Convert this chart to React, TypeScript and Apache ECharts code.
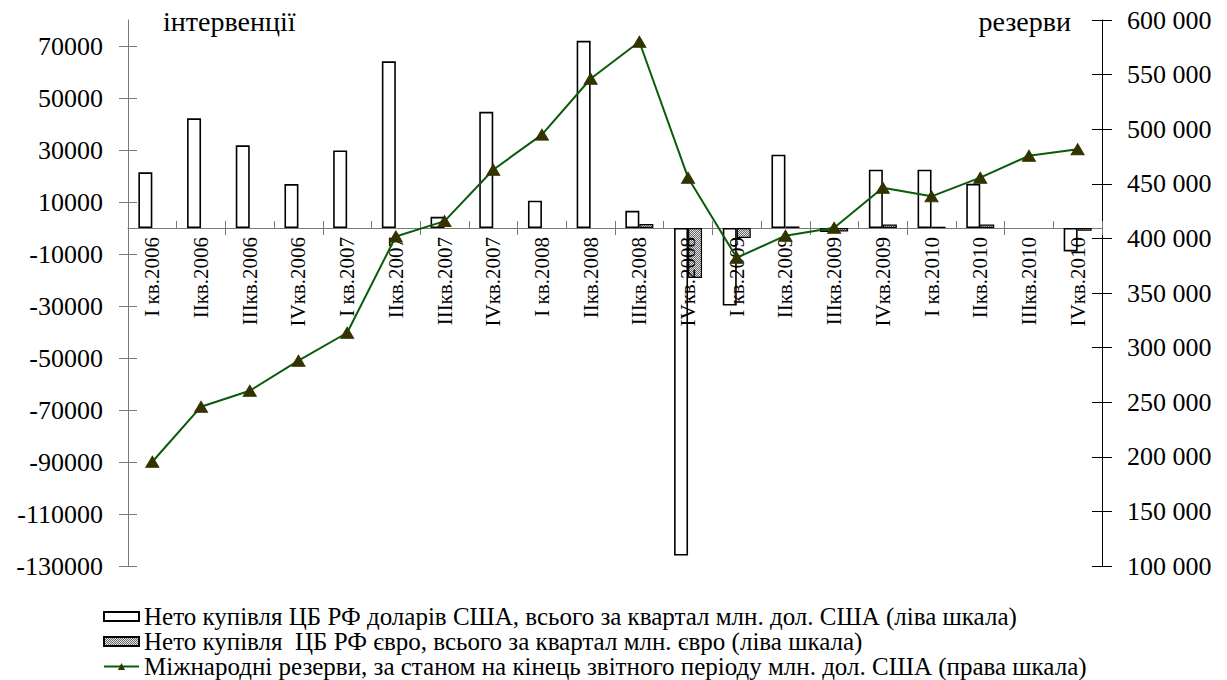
import React, { useEffect, useRef } from "react";
import * as echarts from "echarts";

// Quarters shown on the category axis
const quarters = [
  "I кв.2006", "IIкв.2006", "IIIкв.2006", "IVкв.2006",
  "I кв.2007", "IIкв.2007", "IIIкв.2007", "IVкв.2007",
  "I кв.2008", "IIкв.2008", "IIIкв.2008", "IVкв.2008",
  "I кв.2009", "IIкв.2009", "IIIкв.2009", "IVкв.2009",
  "I кв.2010", "IIкв.2010", "IIIкв.2010", "IVкв.2010",
];

// Net purchases of US dollars by the Bank of Russia, mln USD (left scale)
const usdPurchases = [
  21400, 42200, 31800, 16900,
  29800, 64100, 4300, 44700,
  10500, 72000, 6600, -126000,
  -29800, 28200, -1500, 22400,
  22400, 17000, null, -9000,
];

// Net purchases of euro, mln EUR (left scale)
const eurPurchases = [
  null, null, null, null,
  null, null, null, null,
  null, null, 1500, -19200,
  -3800, 600, -1300, 1300,
  500, 1300, null, -1100,
];

// International reserves at period end, mln USD (right scale)
const reserves = [
  195500, 245900, 260500, 288000,
  313600, 401800, 415800, 462900,
  495000, 546200, 580100, 455600,
  382300, 402500, 409800, 446400,
  438500, 455600, 475700, 481700,
];

// Tick labels of the left scale
const leftTicks = [
  -130000, -110000, -90000, -70000, -50000, -30000, -10000,
  10000, 30000, 50000, 70000,
];

const seriesNames = [
  "Нето купівля ЦБ РФ доларів США, всього за квартал млн. дол. США (ліва шкала)",
  "Нето купівля  ЦБ РФ євро, всього за квартал млн. євро (ліва шкала)",
  "Міжнародні резерви, за станом на кінець звітного періоду млн. дол. США (права шкала)",
];

const FONT = "Liberation Serif";

const LEFT_MIN = -130000;
const LEFT_MAX = 80000;
const RIGHT_MIN = 100000;
const RIGHT_MAX = 600000;

// plot area in pixels
const GRID_LEFT = 128;
const GRID_RIGHT = 125;
const GRID_TOP = 20;
const GRID_BOTTOM = 114;
const CHART_H = 680;

function makeHatch(): HTMLCanvasElement {
  const c = document.createElement("canvas");
  c.width = 4;
  c.height = 4;
  const ctx = c.getContext("2d")!;
  ctx.fillStyle = "#e4e4e4";
  ctx.fillRect(0, 0, 4, 4);
  ctx.fillStyle = "#6a6a6a";
  const dots = [
    [1, 0], [0, 1], [2, 1], [1, 2],
    [3, 2], [2, 3], [3, 0], [0, 3],
  ];
  dots.forEach(([x, y]) => ctx.fillRect(x, y, 1, 1));
  return c;
}

const spaced = (v: number) =>
  String(v).replace(/\B(?=(\d{3})+(?!\d))/g, " ");

export default function App() {
  const ref = useRef<HTMLDivElement>(null);

  useEffect(() => {
    if (!ref.current) return;
    const chart = echarts.init(ref.current, undefined, { renderer: "svg" });
    const hatchFill: any = { image: makeHatch(), repeat: "repeat" };
    const greyAxis = "#7a7a7a";

    // height of the plot area above the zero line, so that a second grid
    // can carry the quarter labels hanging from the zero line
    const plotH = CHART_H - GRID_TOP - GRID_BOTTOM;
    const aboveZero = (plotH * LEFT_MAX) / (LEFT_MAX - LEFT_MIN);

    chart.setOption({
      animation: false,
      textStyle: { fontFamily: FONT },
      title: [
        {
          text: "інтервенції",
          left: 158,
          top: 2,
          textStyle: { fontFamily: FONT, fontSize: 28, fontWeight: "normal", color: "#000" },
        },
        {
          text: "резерви",
          right: 151,
          top: 2,
          textStyle: { fontFamily: FONT, fontSize: 28, fontWeight: "normal", color: "#000" },
        },
      ],
      grid: [
        { left: GRID_LEFT, right: GRID_RIGHT, top: GRID_TOP, bottom: GRID_BOTTOM, containLabel: false },
        { left: GRID_LEFT, right: GRID_RIGHT, top: GRID_TOP, height: aboveZero, containLabel: false },
      ],
      legend: {
        orient: "vertical",
        left: 103,
        top: 604,
        padding: 0,
        itemGap: 0,
        itemWidth: 35,
        itemHeight: 9,
        textStyle: { fontFamily: FONT, fontSize: 25, lineHeight: 22, color: "#000" },
        data: [
          { name: seriesNames[0], icon: "rect" },
          { name: seriesNames[1], icon: "rect" },
          { name: seriesNames[2] },
        ],
      },
      xAxis: [
        {
          type: "category",
          gridIndex: 0,
          data: quarters,
          position: "bottom",
          axisLine: {
            onZero: true,
            onZeroAxisIndex: 0,
            lineStyle: { color: greyAxis, width: 1 },
          },
          axisTick: { show: true, length: 7, lineStyle: { color: greyAxis } },
          axisLabel: { show: false },
          splitLine: { show: false },
        },
        {
          // quarter labels and the upper half of the crossing ticks, on the zero line
          type: "category",
          gridIndex: 1,
          data: quarters,
          position: "bottom",
          z: 3,
          axisLine: { show: false, onZero: false },
          axisTick: { show: true, inside: true, length: 7, lineStyle: { color: greyAxis } },
          axisLabel: {
            rotate: 90,
            margin: 9,
            fontFamily: FONT,
            fontSize: 21,
            color: "#000",
            interval: 0,
          },
          splitLine: { show: false },
        },
      ],
      yAxis: [
        {
          type: "value",
          gridIndex: 0,
          position: "left",
          min: LEFT_MIN,
          max: LEFT_MAX,
          axisLine: { show: true, lineStyle: { color: greyAxis } },
          axisTick: {
            show: true,
            length: 9,
            customValues: leftTicks,
            lineStyle: { color: greyAxis },
          },
          axisLabel: {
            customValues: leftTicks,
            margin: 25,
            fontFamily: FONT,
            fontSize: 26,
            color: "#000",
            formatter: (v: number) => String(v),
          },
          splitLine: { show: false },
        },
        {
          type: "value",
          gridIndex: 0,
          position: "right",
          min: RIGHT_MIN,
          max: RIGHT_MAX,
          interval: 50000,
          axisLine: { show: true, lineStyle: { color: "#000" } },
          axisTick: { show: true, length: 10, lineStyle: { color: "#000" } },
          axisLabel: {
            margin: 25,
            fontFamily: FONT,
            fontSize: 26,
            color: "#000",
            formatter: (v: number) => spaced(v),
          },
          splitLine: { show: false },
        },
        {
          // inner half of the left scale's crossing ticks
          type: "value",
          gridIndex: 0,
          position: "left",
          min: LEFT_MIN,
          max: LEFT_MAX,
          axisLine: { show: false },
          axisTick: {
            show: true,
            inside: true,
            length: 9,
            customValues: leftTicks,
            lineStyle: { color: greyAxis },
          },
          axisLabel: { show: false, customValues: leftTicks },
          splitLine: { show: false },
        },
        {
          // inner half of the right scale's crossing ticks
          type: "value",
          gridIndex: 0,
          position: "right",
          min: RIGHT_MIN,
          max: RIGHT_MAX,
          interval: 50000,
          axisLine: { show: false },
          axisTick: { show: true, inside: true, length: 10, lineStyle: { color: "#000" } },
          axisLabel: { show: false },
          splitLine: { show: false },
        },
        {
          // scale of the label grid (nothing drawn)
          type: "value",
          gridIndex: 1,
          min: 0,
          max: 1,
          show: false,
        },
      ],
      series: [
        {
          name: seriesNames[0],
          type: "bar",
          xAxisIndex: 0,
          yAxisIndex: 0,
          data: usdPurchases,
          barWidth: 14,
          barGap: "0%",
          itemStyle: { color: "#ffffff", borderColor: "#000", borderWidth: 1.6 },
          z: 2,
        },
        {
          name: seriesNames[1],
          type: "bar",
          xAxisIndex: 0,
          yAxisIndex: 0,
          data: eurPurchases,
          barWidth: 14,
          barGap: "0%",
          itemStyle: { color: hatchFill, borderColor: "#000", borderWidth: 1.2 },
          z: 2,
        },
        {
          name: seriesNames[2],
          type: "line",
          xAxisIndex: 0,
          yAxisIndex: 1,
          data: reserves,
          symbol: "triangle",
          symbolSize: [13, 11],
          lineStyle: { color: "#0a5c0a", width: 2 },
          itemStyle: { color: "#333300", borderColor: "#333300" },
          z: 5,
        },
      ],
    });

    return () => chart.dispose();
  }, []);

  return (
    <div
      ref={ref}
      style={{ position: "fixed", left: 0, top: 0, width: 1227, height: CHART_H, background: "#fff" }}
    />
  );
}
